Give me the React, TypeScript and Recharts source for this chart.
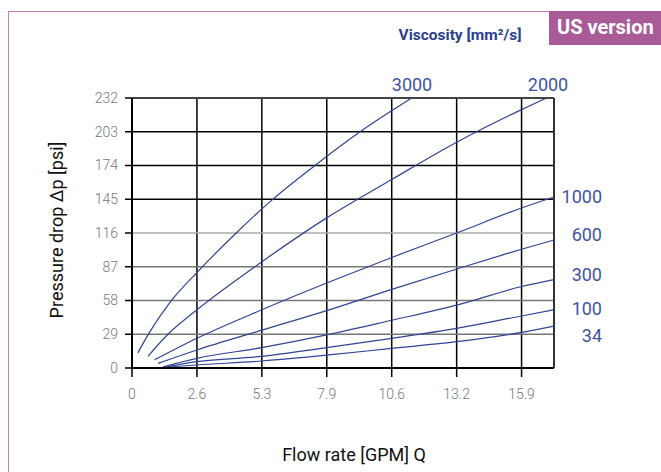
import React from "react";
import {
  LineChart,
  Line,
  XAxis,
  YAxis,
  CartesianGrid,
  ReferenceLine,
} from "recharts";

// flow rate [GPM] and pressure drop [psi], one pair per viscosity
const q3000 = [0.24, 0.68, 1.53, 2.64, 4.24, 5.62, 7.38, 9.28, 11.38];
const p3000 = [13, 29.5, 56, 82, 116, 143, 173, 203, 232];
const q2000 = [0.65, 1.46, 2.64, 5.0, 7.92, 10.57, 13.21, 15.85, 16.87];
const p2000 = [10, 29, 50, 87, 129, 162, 194, 222, 232];
const q1000 = [0.92, 2.64, 5.28, 7.92, 10.57, 13.21, 15.85, 17.17];
const p1000 = [7, 25.5, 50, 73, 95, 116, 137.5, 147];
const q600 = [1.06, 2.64, 5.28, 7.92, 10.57, 13.21, 15.85, 17.17];
const p600 = [4, 15.5, 32.5, 49.3, 67.6, 85, 102, 110];
const q300 = [1.26, 2.64, 5.28, 7.92, 10.57, 13.21, 15.85, 17.17];
const p300 = [1, 8.3, 17.5, 28.4, 41, 54, 70, 76];
const q100 = [1.4, 2.64, 5.28, 7.92, 10.57, 13.21, 15.85, 17.17];
const p100 = [1, 5.4, 10, 17.5, 25.5, 34, 44.7, 50];
const q34 = [1.45, 2.64, 5.28, 7.92, 10.57, 13.21, 15.85, 17.17];
const p34 = [0.8, 2.6, 6, 11, 16.9, 22.6, 30.6, 36];

const xTicks = [0, 2.642, 5.283, 7.925, 10.567, 13.209, 15.85];
const xTickLabels = ["0", "2.6", "5.3", "7.9", "10.6", "13.2", "15.9"];
const yTicks = [0, 29, 58, 87, 116, 145, 174, 203, 232];
const xMax = 17.17;

const pairs = (q: number[], p: number[]) => q.map((x, i) => ({ q: x, p: p[i] }));

const series = [
  { name: "3000", data: pairs(q3000, p3000) },
  { name: "2000", data: pairs(q2000, p2000) },
  { name: "1000", data: pairs(q1000, p1000) },
  { name: "600", data: pairs(q600, p600) },
  { name: "300", data: pairs(q300, p300) },
  { name: "100", data: pairs(q100, p100) },
  { name: "34", data: pairs(q34, p34) },
];

// horizontal rules: upper ones black, lower ones grey like the original
const hLineColor = (v: number) => {
  if (v === 0) return "#000";
  if (v === 232) return "#444";
  if (v >= 145) return "#000";
  if (v === 116) return "#aaa";
  return "#777";
};

const curveColor = "#2f4593";
const labelColor = "#3d54a4";

const curveLabels = [
  { text: "3000", x: 412, y: 85, align: "center" },
  { text: "2000", x: 548, y: 85, align: "center" },
  { text: "1000", x: 602, y: 197, align: "right" },
  { text: "600", x: 602, y: 235, align: "right" },
  { text: "300", x: 602, y: 275, align: "right" },
  { text: "100", x: 602, y: 309, align: "right" },
  { text: "34", x: 602, y: 336, align: "right" },
];

export default function App() {
  const font = "Roboto, 'Noto Sans', sans-serif";
  return (
    <div
      style={{
        position: "absolute",
        left: 0,
        top: 0,
        width: 661,
        height: 472,
        overflow: "hidden",
        background: "#fff",
        fontFamily: font,
      }}
    >
      <div
        style={{
          position: "absolute",
          left: 8,
          top: 11,
          width: 700,
          height: 500,
          borderLeft: "1px solid #cc7ab8",
          borderTop: "1px solid #cc7ab8",
        }}
      />
      <div
        style={{
          position: "absolute",
          left: 549,
          top: 11,
          width: 112,
          height: 34,
          background: "#a85b96",
          color: "#fff",
          fontWeight: 700,
          fontSize: 20,
          lineHeight: "32px",
          paddingLeft: 8,
          boxSizing: "border-box",
          whiteSpace: "nowrap",
        }}
      >
        US version
      </div>
      <div
        style={{
          position: "absolute",
          left: 360,
          width: 200,
          top: 26,
          textAlign: "center",
          color: "#2b3f8f",
          fontWeight: 700,
          fontSize: 15.5,
        }}
      >
        Viscosity [mm²/s]
      </div>

      <LineChart
        width={661}
        height={472}
        margin={{ top: 98, right: 107, left: 72, bottom: 74 }}
      >
        <CartesianGrid horizontal={false} stroke="#000" strokeWidth={1.5} />
        {yTicks.map((v) => (
          <ReferenceLine key={v} y={v} stroke={hLineColor(v)} strokeWidth={v === 232 ? 2 : 1.5} />
        ))}
        <ReferenceLine x={xMax} stroke="#333" strokeWidth={2} />
        <XAxis
          type="number"
          dataKey="q"
          domain={[0, xMax]}
          ticks={xTicks}
          tickFormatter={(v: number, i: number) => xTickLabels[i]}
          height={30}
          tickSize={9}
          tickMargin={12}
          axisLine={{ stroke: "#000", strokeWidth: 2 }}
          tickLine={{ stroke: "#000", strokeWidth: 1.5 }}
          tick={{ fill: "#777", fontSize: 14, fontWeight: 300, fontFamily: font }}
          allowDataOverflow
        />
        <YAxis
          type="number"
          dataKey="p"
          domain={[0, 232]}
          ticks={yTicks}
          width={60}
          tickSize={7}
          tickMargin={7}
          axisLine={{ stroke: "#000", strokeWidth: 2 }}
          tickLine={{ stroke: "#000", strokeWidth: 1.5 }}
          tick={{ fill: "#777", fontSize: 14, fontWeight: 300, fontFamily: font }}
          allowDataOverflow
        />
        {series.map((s) => (
          <Line
            key={s.name}
            data={s.data}
            dataKey="p"
            type="monotone"
            stroke={curveColor}
            strokeWidth={1.2}
            dot={false}
            activeDot={false}
            isAnimationActive={false}
          />
        ))}
      </LineChart>

      {curveLabels.map((l) => (
        <div
          key={l.text}
          style={{
            position: "absolute",
            top: l.y - 11,
            left: l.align === "center" ? l.x - 40 : l.x - 80,
            width: 80,
            textAlign: l.align as "center" | "right",
            color: labelColor,
            fontSize: 18,
            lineHeight: "22px",
          }}
        >
          {l.text}
        </div>
      ))}

      <div
        style={{
          position: "absolute",
          left: 57 - 120,
          top: 230 - 12,
          width: 240,
          height: 24,
          lineHeight: "24px",
          textAlign: "center",
          fontSize: 18,
          color: "#111",
          transform: "rotate(-90deg)",
          whiteSpace: "nowrap",
        }}
      >
        Pressure drop Δp [psi]
      </div>
      <div
        style={{
          position: "absolute",
          left: 354 - 120,
          width: 240,
          top: 443,
          lineHeight: "24px",
          textAlign: "center",
          fontSize: 18,
          color: "#111",
          whiteSpace: "nowrap",
        }}
      >
        Flow rate [GPM] Q
      </div>
    </div>
  );
}
